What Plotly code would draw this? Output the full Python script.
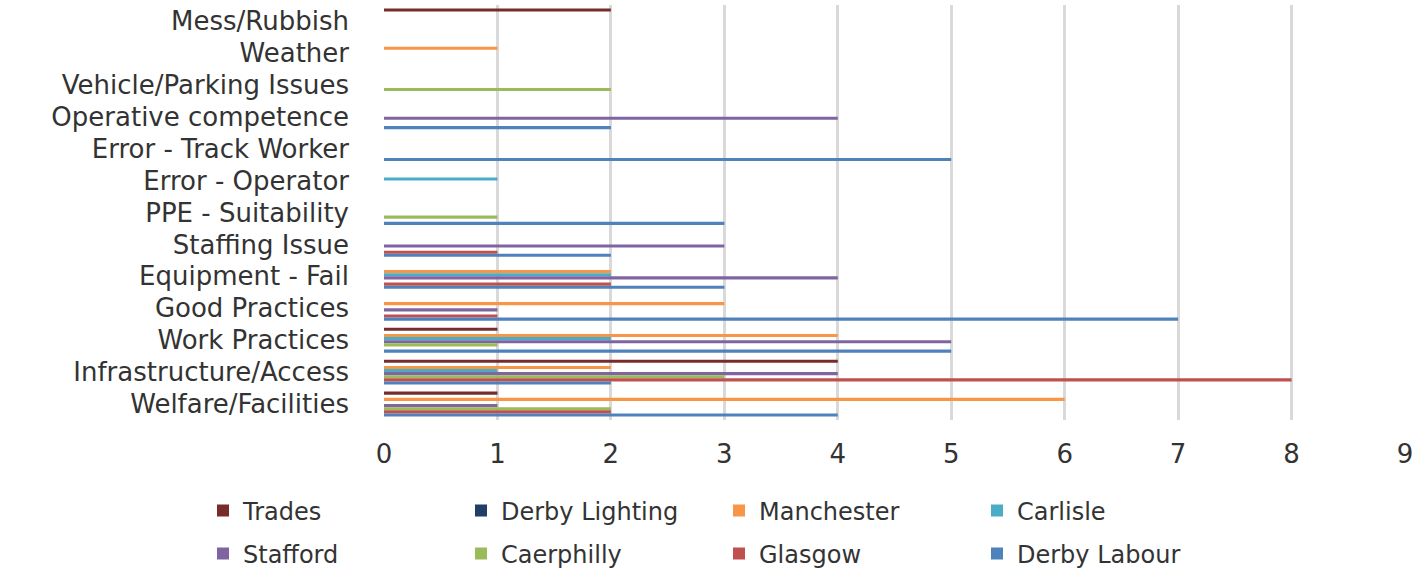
import plotly.graph_objects as go

# Incident categories, listed top to bottom as displayed
categories = [
    "Mess/Rubbish", "Weather", "Vehicle/Parking Issues", "Operative competence",
    "Error - Track Worker", "Error - Operator", "PPE - Suitability", "Staffing Issue",
    "Equipment - Fail", "Good Practices", "Work Practices", "Infrastructure/Access",
    "Welfare/Facilities",
]

trades = [2, 0, 0, 0, 0, 0, 0, 0, 0, 0, 1, 4, 1]
derby_lighting = [0, 0, 0, 0, 0, 0, 0, 0, 0, 0, 0, 0, 0]
manchester = [0, 1, 0, 0, 0, 0, 0, 0, 2, 3, 4, 2, 6]
carlisle = [0, 0, 0, 0, 0, 1, 0, 0, 2, 0, 2, 1, 0]
stafford = [0, 0, 0, 4, 0, 0, 0, 3, 4, 1, 5, 4, 1]
caerphilly = [0, 0, 2, 0, 0, 0, 1, 0, 0, 0, 1, 3, 2]
glasgow = [0, 0, 0, 0, 0, 0, 0, 1, 2, 1, 0, 8, 2]
derby_labour = [0, 0, 0, 2, 5, 0, 3, 2, 3, 7, 5, 2, 4]

x_ticks = [0, 1, 2, 3, 4, 5, 6, 7, 8, 9]

series = [
    ("Trades", trades, "#772C2A", "legend"),
    ("Derby Lighting", derby_lighting, "#1F3F66", "legend"),
    ("Manchester", manchester, "#F79646", "legend"),
    ("Carlisle", carlisle, "#4BACC6", "legend"),
    ("Stafford", stafford, "#8064A2", "legend2"),
    ("Caerphilly", caerphilly, "#9BBB59", "legend2"),
    ("Glasgow", glasgow, "#C0504D", "legend2"),
    ("Derby Labour", derby_labour, "#4F81BD", "legend2"),
]

FONT = "'DejaVu Sans', Verdana, sans-serif"
TEXT = "#333333"
FS = 26
LFS = 24

fig = go.Figure()
for name, vals, color, leg in series:
    fig.add_trace(go.Bar(
        y=categories, x=vals, name=name, orientation="h",
        marker=dict(color=color, line=dict(width=0)),
        legend=leg,
    ))

W, H = 1428, 572
ML, MR, MT, MB = 384, 23, 5, 152
pw = W - ML - MR
ph = H - MT - MB


def px_x(p):
    return (p - ML) / pw


def px_y(p):
    return (H - MB - p) / ph


legend_common = dict(
    orientation="h", xanchor="left", yanchor="middle",
    entrywidth=213, entrywidthmode="pixels",
    font=dict(family=FONT, size=LFS, color=TEXT),
    traceorder="normal", bgcolor="rgba(0,0,0,0)",
)

fig.update_layout(
    width=W, height=H,
    margin=dict(l=ML, r=MR, t=MT, b=MB, autoexpand=False),
    paper_bgcolor="white", plot_bgcolor="white",
    barmode="group", bargap=0.22, bargroupgap=0,
    font=dict(family=FONT, size=FS, color=TEXT),
    legend=dict(x=px_x(203), y=px_y(511), **legend_common),
    legend2=dict(x=px_x(203), y=px_y(554), **legend_common),
    xaxis=dict(
        range=[0, 9], tickvals=x_ticks, showgrid=True,
        gridcolor="#d9d9d9", gridwidth=3, zeroline=False,
        showline=False, ticks="", ticklabelstandoff=16,
        tickfont=dict(family=FONT, size=FS, color=TEXT),
    ),
    yaxis=dict(
        categoryorder="array", categoryarray=categories,
        autorange="reversed", showgrid=False, zeroline=False,
        showline=False, ticks="", ticklabelstandoff=34,
        tickfont=dict(family=FONT, size=FS, color=TEXT),
    ),
)

fig.write_html("out.html")
